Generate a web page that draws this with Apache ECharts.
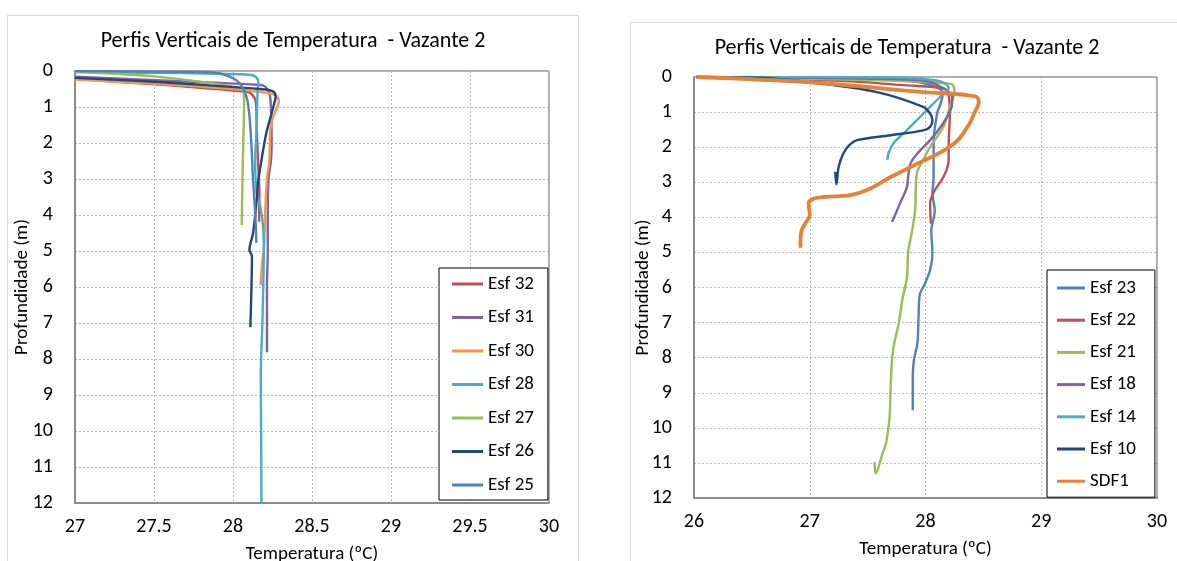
<!DOCTYPE html>
<html>
<head>
<meta charset="utf-8">
<script src="https://cdn.jsdelivr.net/npm/echarts@6/dist/echarts.min.js"></script>
<style>
html, body { margin: 0; padding: 0; background: #fff; overflow: hidden; }
.frame { position: absolute; border: 1px solid #d9d9d9; background: #fff; }
#left { left: 7px; top: 15px; width: 570px; height: 560px; }
#right { left: 630px; top: 22px; width: 552px; height: 560px; }
.chart { width: 100%; height: 100%; }
</style>
</head>
<body>
<div id="left" class="frame"><div id="leftChart" class="chart"></div></div>
<div id="right" class="frame"><div id="rightChart" class="chart"></div></div>
<script>
// [temperatura ºC, profundidade m]
const esf32 = [[27.0, 0.22], [27.6, 0.4], [28.09, 0.58], [28.12, 0.65], [28.145, 0.86], [28.15, 1.56], [28.158, 2.48], [28.167, 3.41], [28.165, 4.19]]
const esf31 = [[27.0, 0.16], [27.85, 0.32], [28.15, 0.38], [28.2, 0.42], [28.23, 0.62], [28.24, 1.0], [28.245, 2.0], [28.24, 2.5], [28.225, 3.0], [28.22, 4.0], [28.22, 5.0], [28.215, 6.0], [28.215, 7.0], [28.215, 7.81]]
const esf30 = [[27.0, 0.24], [27.85, 0.45], [28.17, 0.58], [28.27, 0.68], [28.29, 0.85], [28.27, 1.1], [28.245, 1.4], [28.235, 1.7], [28.23, 2.5], [28.215, 3.0], [28.205, 3.8], [28.2, 4.5], [28.195, 5.0], [28.185, 5.3], [28.175, 5.95]]
const esf28 = [[27.0, 0.03], [27.7, 0.06], [28.04, 0.09], [28.13, 0.13], [28.16, 0.3], [28.155, 0.63], [28.15, 1.56], [28.14, 2.5], [28.15, 3.4], [28.17, 3.7], [28.19, 4.3], [28.195, 5.0], [28.19, 6.3], [28.184, 7.27], [28.176, 8.4], [28.178, 10.0], [28.18, 12.0]]
const esf27 = [[27.0, 0.02], [27.5, 0.15], [27.85, 0.33], [28.0, 0.44], [28.06, 0.52], [28.07, 0.75], [28.068, 1.5], [28.062, 2.5], [28.058, 3.5], [28.055, 4.28]]
const esf26 = [[27.0, 0.19], [27.5, 0.3], [27.85, 0.4], [28.17, 0.5], [28.25, 0.56], [28.27, 0.7], [28.255, 1.0], [28.21, 1.74], [28.18, 2.48], [28.16, 3.04], [28.15, 3.58], [28.127, 4.5], [28.104, 4.97], [28.12, 5.15], [28.117, 5.98], [28.11, 7.12]]
const esf25 = [[27.0, 0.0], [27.6, 0.02], [27.88, 0.05], [28.0, 0.2], [28.06, 0.45], [28.095, 0.91], [28.116, 2.02], [28.127, 3.04], [28.14, 3.9], [28.148, 4.77]]

const esf23 = [[26.02, 0.0], [27.0, 0.02], [27.6, 0.06], [27.95, 0.15], [28.1, 0.3], [28.15, 0.45], [28.13, 0.76], [28.1, 1.04], [28.07, 1.9], [28.07, 2.85], [28.06, 3.32], [28.08, 3.8], [28.05, 4.4], [28.06, 5.0], [28.04, 5.5], [27.99, 5.92], [27.95, 6.21], [27.94, 6.83], [27.93, 7.59], [27.9, 8.06], [27.89, 8.54], [27.89, 9.5]]
const esf22 = [[26.02, 0.0], [27.26, 0.11], [27.84, 0.24], [28.155, 0.33], [28.2, 0.5], [28.21, 1.04], [28.2, 2.0], [28.2, 2.37], [28.155, 2.85], [28.08, 3.23], [28.04, 3.6], [28.046, 4.18]]
const esf21 = [[26.02, 0.0], [27.41, 0.08], [27.98, 0.14], [28.21, 0.19], [28.24, 0.24], [28.25, 0.43], [28.21, 0.85], [28.155, 1.42], [28.04, 1.99], [27.98, 2.37], [27.925, 2.75], [27.91, 3.8], [27.88, 4.46], [27.85, 5.0], [27.84, 5.7], [27.8, 6.35], [27.77, 7.0], [27.72, 7.78], [27.7, 8.73], [27.69, 9.68], [27.66, 10.43], [27.63, 10.72], [27.57, 11.3], [27.56, 10.97]]
const esf18 = [[26.02, 0.0], [27.0, 0.02], [27.6, 0.05], [27.98, 0.1], [28.16, 0.33], [28.23, 0.57], [28.23, 0.76], [28.15, 1.33], [28.04, 1.8], [27.93, 2.18], [27.87, 2.47], [27.85, 2.85], [27.84, 3.13], [27.78, 3.6], [27.73, 3.99], [27.71, 4.13]]
const esf14 = [[26.02, 0.0], [27.0, 0.0], [27.81, 0.02], [28.1, 0.1], [28.18, 0.21], [28.2, 0.33], [28.155, 0.47], [28.04, 0.85], [27.925, 1.23], [27.81, 1.61], [27.72, 1.9], [27.68, 2.18], [27.67, 2.36]]
const esf10 = [[26.02, 0.0], [26.55, 0.02], [27.0, 0.15], [27.58, 0.43], [27.98, 0.85], [28.04, 1.04], [28.06, 1.23], [28.04, 1.42], [27.98, 1.52], [27.7, 1.66], [27.41, 1.8], [27.34, 1.95], [27.29, 2.18], [27.25, 2.56], [27.23, 3.06], [27.22, 2.7]]
const sdf1 = [[26.02, 0.0], [27.0, 0.15], [27.98, 0.43], [28.43, 0.55], [28.46, 0.71], [28.42, 1.04], [28.38, 1.33], [28.28, 1.8], [28.16, 2.09], [27.93, 2.47], [27.7, 2.85], [27.49, 3.23], [27.35, 3.37], [27.12, 3.42], [27.03, 3.47], [26.99, 3.6], [27.0, 3.94], [26.96, 4.18], [26.93, 4.37], [26.92, 4.65], [26.92, 4.87]]

const leftNames = ['Esf 32', 'Esf 31', 'Esf 30', 'Esf 28', 'Esf 27', 'Esf 26', 'Esf 25']
const leftData = [esf32, esf31, esf30, esf28, esf27, esf26, esf25]
const leftColors = ['#C0504D', '#8064A2', '#F79646', '#4BACC6', '#9BBB59', '#1F497D', '#4F81BD']

const rightNames = ['Esf 23', 'Esf 22', 'Esf 21', 'Esf 18', 'Esf 14', 'Esf 10', 'SDF1']
const rightData = [esf23, esf22, esf21, esf18, esf14, esf10, sdf1]
const rightColors = ['#4F81BD', '#C0504D', '#9BBB59', '#8064A2', '#4BACC6', '#1F497D', '#E3823A']

const TITLE = 'Perfis Verticais de Temperatura  - Vazante 2'
const FONT = 'Carlito, "Liberation Sans", Arial, sans-serif'

function buildOption(cfg) {
  return {
    animation: false,
    textStyle: { fontFamily: FONT },
    title: {
      text: TITLE,
      left: 'center',
      top: cfg.titleTop,
      padding: 0,
      textStyle: { fontFamily: FONT, fontSize: 22, fontWeight: 'normal', color: '#000' },
    },
    grid: {
      left: cfg.grid[0], top: cfg.grid[1], width: cfg.grid[2], height: cfg.grid[3],
      outerBoundsMode: 'none',
      show: true, borderColor: '#595959', borderWidth: 1,
    },
    xAxis: {
      type: 'value',
      min: cfg.xMin, max: cfg.xMax, interval: cfg.xStep,
      name: 'Temperatura (ºC)',
      nameLocation: 'middle',
      nameGap: cfg.xNameGap,
      nameMoveOverlap: false,
      nameTextStyle: { fontSize: 19, color: '#000' },
      axisLine: { show: true, onZero: false, lineStyle: { color: '#8c8c8c', width: 2 } },
      axisTick: { show: false },
      axisLabel: { fontSize: 20, color: '#000', margin: 14 },
      splitLine: { show: true, lineStyle: { color: '#b8b8b8', type: [2, 2] } },
    },
    yAxis: {
      type: 'value',
      inverse: true,
      min: 0, max: 12, interval: 1,
      name: 'Profundidade (m)',
      nameLocation: 'middle',
      nameGap: cfg.yNameGap,
      nameMoveOverlap: false,
      nameTextStyle: { fontSize: 19, color: '#000' },
      axisLine: { show: true, onZero: false, lineStyle: { color: '#8c8c8c', width: 2 } },
      axisTick: { show: false },
      axisLabel: { fontSize: 20, color: '#000', margin: cfg.yLabelMargin, align: 'right' },
      splitLine: { show: true, lineStyle: { color: '#b8b8b8', type: [2, 2] } },
    },
    legend: {
      orient: 'vertical',
      left: cfg.legend[0],
      top: cfg.legend[1],
      data: cfg.names,
      icon: 'rect',
      itemWidth: cfg.legendIcon,
      itemHeight: 3,
      itemGap: cfg.legendGap,
      padding: cfg.legendPad,
      backgroundColor: '#fff',
      borderColor: '#000',
      borderWidth: 1,
      borderRadius: 0,
      textStyle: { fontSize: 19, color: '#000', lineHeight: 20 },
    },
    series: cfg.data.map((d, i) => ({
      name: cfg.names[i],
      type: 'line',
      data: d,
      smooth: 0.35,
      symbol: 'none',
      lineStyle: { width: cfg.names[i] === 'SDF1' ? 3.8 : 2.4, color: cfg.colors[i] },
      itemStyle: { color: cfg.colors[i] },
    })),
  }
}

const leftChart = echarts.init(document.getElementById('leftChart'))
leftChart.setOption(buildOption({
  titleTop: 14,
  grid: [67, 55, 474, 432],
  xMin: 27, xMax: 30, xStep: 0.5,
  xNameGap: 42,
  yNameGap: 43,
  yLabelMargin: 22,
  legend: [431, 252],
  legendIcon: 31,
  legendGap: 13.5,
  legendPad: [6, 14, 5, 13],
  names: leftNames, data: leftData, colors: leftColors,
}))

const rightChart = echarts.init(document.getElementById('rightChart'))
rightChart.setOption(buildOption({
  titleTop: 14,
  grid: [63, 54, 463, 421],
  xMin: 26, xMax: 30, xStep: 1,
  xNameGap: 42,
  yNameGap: 41,
  yLabelMargin: 22,
  legend: [416, 247],
  legendIcon: 28,
  legendGap: 12.2,
  legendPad: [8, 19, 6, 10],
  names: rightNames, data: rightData, colors: rightColors,
}))
</script>
</body>
</html>
